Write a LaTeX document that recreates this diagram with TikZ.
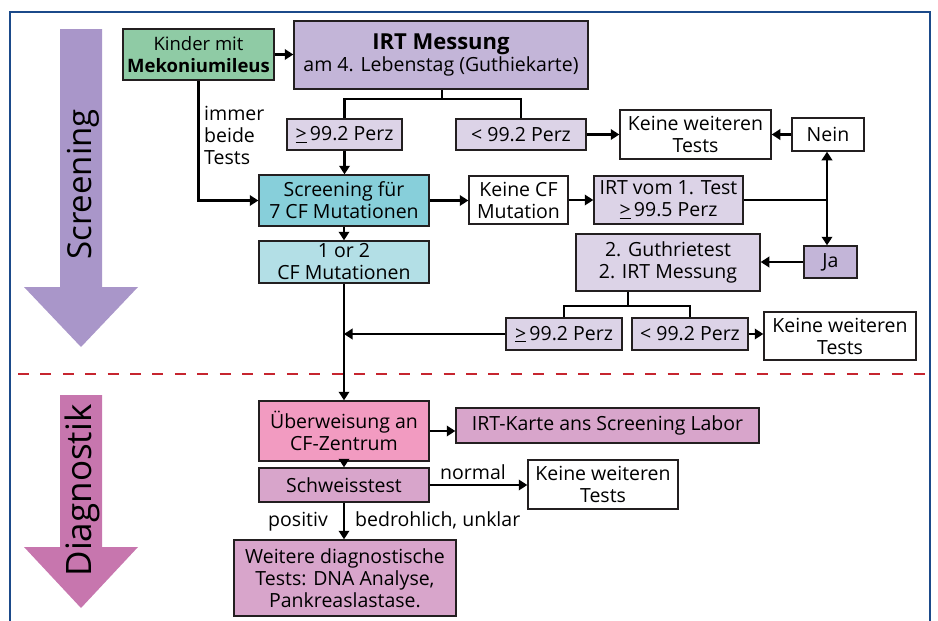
\documentclass[tikz,border=0pt]{standalone}
\usepackage{fontspec}
\setmainfont{Open Sans}
\usetikzlibrary{arrows.meta}
\definecolor{frameblue}{HTML}{1B4A8A}
\definecolor{dashred}{HTML}{C6252F}
\definecolor{cgreen}{HTML}{8FCBA5}
\definecolor{clav}{HTML}{C3B5D8}
\definecolor{clavlight}{HTML}{DCD3E7}
\definecolor{cteal}{HTML}{87CFDA}
\definecolor{ctealight}{HTML}{B3DFE6}
\definecolor{cpink}{HTML}{F29BC1}
\definecolor{cmauve}{HTML}{D8A5CB}
\definecolor{arrscr}{HTML}{A996C9}
\definecolor{arrdia}{HTML}{C776AE}
\definecolor{boxline}{HTML}{231F20}
\begin{document}
\begin{tikzpicture}[x=1pt,y=-1pt,
  box/.style={draw=boxline,line width=1.5pt,inner sep=0pt,align=center,font=\fontsize{19.5}{22}\selectfont},
  conn/.style={draw=black,line width=2.4pt,-{Triangle[length=8.5pt,width=10.5pt]}},
  plain/.style={draw=black,line width=2.4pt},
  lbl/.style={font=\fontsize{19.5}{22}\selectfont,inner sep=0pt,align=left},
  bigtxt/.style={rotate=90,anchor=base,inner sep=0pt}]
\useasboundingbox (0,0) rectangle (938,621);
\clip (0,0) rectangle (938,621);
% frame
\draw[frameblue,line width=2.8pt] (10,12) rectangle (930,640);
% big arrows
\fill[arrscr] (60,29) -- (102,29) -- (102,287) -- (138,287) -- (81,347) -- (24,287) -- (60,287) -- cycle;
\fill[arrdia] (60,395) -- (102,395) -- (102,547) -- (138,547) -- (81,608) -- (24,547) -- (60,547) -- cycle;
\node[bigtxt,font=\fontsize{33}{38}\selectfont] (tscr) at (91,184.5) {Screening};
\node[bigtxt,font=\fontsize{35}{40}\selectfont] (tdia) at (91,490.5) {Diagnostik};
% separator
\draw[dashred,line width=2pt,dash pattern=on 11pt off 11.4pt] (18,374) -- (928,374);
% nodes
\node[box,fill=cgreen,minimum width=151pt,minimum height=51pt,font=\fontsize{18.5}{22}\selectfont] (kinder) at (198.5,54.5) {Kinder mit\\\textbf{Mekoniumileus}};
\node[box,fill=clav,minimum width=294pt,minimum height=68pt] (irt) at (441,55) {{\fontsize{22}{24}\selectfont\textbf{IRT Messung}}\\am 4. Lebenstag (Guthiekarte)};
\node[box,fill=clavlight,minimum width=115pt,minimum height=31pt] (ge1) at (344.5,134.5) {\underline{>}\,99.2 Perz};
\node[box,fill=clavlight,minimum width=130pt,minimum height=31pt] (lt1) at (521,134.5) {< 99.2 Perz};
\node[box,fill=white,minimum width=151pt,minimum height=49pt] (kw1) at (695.5,134.5) {Keine weiteren\\Tests};
\node[box,fill=white,minimum width=72pt,minimum height=33pt] (nein) at (828,134.5) {Nein};
\node[box,fill=cteal,minimum width=170pt,minimum height=51pt] (scr) at (344,200.5) {Screening für\\7 CF Mutationen};
\node[box,fill=white,minimum width=99pt,minimum height=48pt] (kcf) at (518.5,200) {Keine CF\\Mutation};
\node[box,fill=clavlight,minimum width=149pt,minimum height=48pt] (irtv) at (668.5,200) {IRT vom 1. Test\\\underline{>}\,99.5 Perz};
\node[box,fill=clav,minimum width=53pt,minimum height=32pt] (ja) at (830.5,262) {Ja};
\node[box,fill=clavlight,minimum width=184pt,minimum height=57pt] (gut) at (668,262.5) {2. Guthrietest\\2. IRT Messung};
\node[box,fill=clavlight,minimum width=116pt,minimum height=32pt] (ge2) at (564,334) {\underline{>}\,99.2 Perz};
\node[box,fill=clavlight,minimum width=116pt,minimum height=32pt] (lt2) at (690,334) {< 99.2 Perz};
\node[box,fill=white,minimum width=152pt,minimum height=48pt] (kw2) at (840,336) {Keine weiteren\\Tests};
\node[box,fill=ctealight,minimum width=170pt,minimum height=42pt] (one) at (344,262) {1 or 2\\CF Mutationen};
\node[box,fill=cpink,minimum width=170pt,minimum height=60pt] (ueb) at (344,431) {Überweisung an\\CF-Zentrum};
\node[box,fill=cmauve,minimum width=303pt,minimum height=35pt] (irk) at (607.5,425.5) {IRT-Karte ans Screening Labor};
\node[box,fill=cmauve,minimum width=170pt,minimum height=34pt] (sch) at (344,485) {Schweisstest};
\node[box,fill=white,minimum width=150pt,minimum height=49pt] (kw3) at (603,484.5) {Keine weiteren\\Tests};
\node[box,fill=cmauve,minimum width=222pt,minimum height=76pt] (wei) at (345,578) {Weitere diagnostische\\Tests: DNA Analyse,\\Pankreaslastase.};
% labels
\node[lbl,anchor=west] (limmer) at (204,135) {immer\\beide\\Tests};
\node[lbl,anchor=base] (lnormal) at (473,479) {normal};
\node[lbl,anchor=base] (lpos) at (298,526) {positiv};
\node[lbl,anchor=base west] (lbed) at (355,526) {bedrohlich, unklar};
% connectors
\coordinate (b1) at (442,99);
\coordinate (j) at (827,200);
\coordinate (b2) at (628,306);
\draw[conn] (kinder.east) -- (irt.west |- kinder.east);
\draw[conn] (kinder.south) |- (scr.west);
\draw[plain] (b1 |- irt.south) -- (b1);
\draw[plain] (ge1.north) |- (lt1.north |- b1) -- (lt1.north);
\draw[conn] (lt1.east) -- (kw1.west |- lt1.east);
\draw[conn] (nein.west) -- (kw1.east |- nein.west);
\draw[conn] (ge1.south) -- (ge1.south |- scr.north);
\draw[conn] (scr.east) -- (kcf.west |- scr.east);
\draw[conn] (kcf.east) -- (irtv.west |- kcf.east);
\draw[plain] (irtv.east) -- (j);
\draw[conn] (j) -- (j |- nein.south);
\draw[conn] (j) -- (j |- ja.north);
\draw[conn] (ja.west) -- (gut.east |- ja.west);
\draw[plain] (b2 |- gut.south) -- (b2);
\draw[plain] (ge2.north) |- (lt2.north |- b2) -- (lt2.north);
\draw[conn] (lt2.east) -- (lt2.east -| kw2.west);
\draw[conn] (scr.south) -- (scr.south |- one.north);
\draw[conn] (ge2.west) -- (one.south |- ge2.west);
\draw[conn] (one.south) -- (one.south |- ueb.north);
\draw[conn] (ueb.east) -- (irk.west |- ueb.east);
\draw[conn] (ueb.south) -- (ueb.south |- sch.north);
\draw[conn] (sch.east) -- (kw3.west |- sch.east);
\draw[conn] (sch.south) -- (sch.south |- wei.north);
\end{tikzpicture}
\end{document}
